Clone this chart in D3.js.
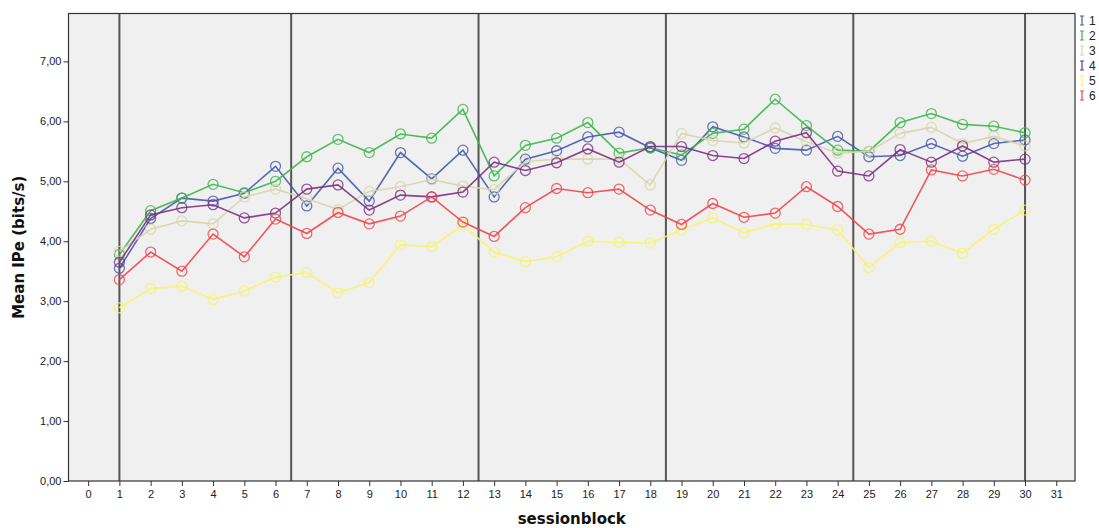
<!DOCTYPE html>
<html>
<head>
<meta charset="utf-8">
<script src="https://cdn.jsdelivr.net/npm/d3@7"></script>
<style>
  body { margin: 0; background: #fff; }
  svg { display: block; font-family: "Liberation Sans", Arial, sans-serif; }
</style>
</head>
<body>
<svg width="1099" height="528"></svg>
<script>
// sessionblock 1..30, mean IPe per group
const blocks = d3.range(1, 31);
const groups = ["1", "2", "3", "4", "5", "6"];
const colors = ["#4259ae", "#3cb64b", "#d8d4ac", "#7b2f85", "#f8f46c", "#f0454a"];

const g1 = [3.55, 4.38, 4.72, 4.67, 4.80, 5.25, 4.59, 5.22, 4.67, 5.48, 5.04, 5.52, 4.74, 5.37, 5.51, 5.74, 5.82, 5.56, 5.35, 5.91, 5.74, 5.55, 5.52, 5.75, 5.41, 5.43, 5.63, 5.42, 5.63, 5.69];
const g2 = [3.78, 4.51, 4.72, 4.95, 4.81, 5.00, 5.41, 5.70, 5.48, 5.79, 5.72, 6.20, 5.09, 5.60, 5.72, 5.98, 5.47, 5.56, 5.44, 5.80, 5.87, 6.37, 5.93, 5.52, 5.50, 5.98, 6.13, 5.95, 5.92, 5.81];
const g3 = [3.83, 4.20, 4.34, 4.29, 4.74, 4.87, 4.71, 4.53, 4.83, 4.91, 5.03, 4.92, 4.86, 5.33, 5.37, 5.37, 5.37, 4.94, 5.80, 5.68, 5.64, 5.89, 5.66, 5.47, 5.50, 5.80, 5.90, 5.63, 5.75, 5.59];
const g4 = [3.65, 4.44, 4.56, 4.61, 4.39, 4.47, 4.87, 4.94, 4.52, 4.77, 4.74, 4.82, 5.32, 5.18, 5.31, 5.54, 5.32, 5.58, 5.58, 5.43, 5.38, 5.67, 5.81, 5.17, 5.09, 5.53, 5.32, 5.59, 5.32, 5.37];
const g5 = [2.89, 3.21, 3.25, 3.03, 3.17, 3.40, 3.48, 3.14, 3.31, 3.94, 3.91, 4.27, 3.82, 3.66, 3.74, 4.00, 3.98, 3.97, 4.19, 4.39, 4.14, 4.29, 4.28, 4.19, 3.56, 3.98, 4.00, 3.80, 4.20, 4.52];
const g6 = [3.36, 3.82, 3.50, 4.12, 3.74, 4.37, 4.13, 4.48, 4.29, 4.42, 4.74, 4.32, 4.08, 4.56, 4.88, 4.81, 4.87, 4.52, 4.28, 4.63, 4.40, 4.47, 4.91, 4.58, 4.12, 4.20, 5.19, 5.09, 5.20, 5.02];
const seriesValues = [g1, g2, g3, g4, g5, g6];

// reference lines (phase boundaries)
const refLines = [1, 6.5, 12.5, 18.5, 24.5, 30];
const xTicks = d3.range(0, 32);
const yTicks = [0, 1, 2, 3, 4, 5, 6, 7];

const svg = d3.select("svg");
const margin = { top: 13.5, right: 24, bottom: 47, left: 68.5 };
const width = 1099, height = 528;

const x = d3.scaleLinear()
  .domain([-0.63, 31.6])
  .range([margin.left, width - margin.right]);
const y = d3.scaleLinear()
  .domain([0, 7.8])
  .range([height - margin.bottom, margin.top]);

const fmt = d => d3.format(".2f")(d).replace(".", ",");

// plot background
svg.append("rect")
  .attr("x", x.range()[0]).attr("y", y.range()[1])
  .attr("width", x.range()[1] - x.range()[0])
  .attr("height", y.range()[0] - y.range()[1])
  .attr("fill", "#f0f0f0");

// axes
const xAxis = svg.append("g")
  .attr("transform", `translate(0,${y(0)})`)
  .call(d3.axisBottom(x).tickValues(xTicks).tickSize(5).tickPadding(4).tickFormat(d3.format("d")));
const yAxis = svg.append("g")
  .attr("transform", `translate(${x.range()[0]},0)`)
  .call(d3.axisLeft(y).tickValues(yTicks).tickSize(5).tickPadding(2).tickFormat(fmt));
[xAxis, yAxis].forEach(a => {
  a.select(".domain").remove();
  a.selectAll(".tick line").attr("stroke", "#333");
  a.selectAll(".tick text").attr("fill", "#222").attr("font-size", 11)
    .attr("font-family", "Liberation Sans, Arial, sans-serif");
});

// reference lines
svg.append("g")
  .selectAll("line")
  .data(refLines)
  .join("line")
    .attr("x1", d => x(d)).attr("x2", d => x(d))
    .attr("y1", y.range()[1]).attr("y2", y.range()[0])
    .attr("stroke", "#555")
    .attr("stroke-width", 2);

// series
const line = d3.line()
  .x((d, i) => x(blocks[i]))
  .y(d => y(d));

seriesValues.forEach((vals, k) => {
  const g = svg.append("g");
  g.append("path")
    .datum(vals)
    .attr("d", line)
    .attr("fill", "none")
    .attr("stroke", colors[k])
    .attr("stroke-width", 1.6)
    .attr("stroke-opacity", 0.9);
  g.selectAll("circle")
    .data(vals)
    .join("circle")
      .attr("cx", (d, i) => x(blocks[i]))
      .attr("cy", d => y(d))
      .attr("r", 5)
      .attr("fill", "none")
      .attr("stroke", colors[k])
      .attr("stroke-width", 1.3)
      .attr("stroke-opacity", 0.8);
});

// frame
svg.append("rect")
  .attr("x", x.range()[0]).attr("y", y.range()[1])
  .attr("width", x.range()[1] - x.range()[0])
  .attr("height", y.range()[0] - y.range()[1])
  .attr("fill", "none")
  .attr("stroke", "#333")
  .attr("stroke-width", 1.2);

// legend
const legend = svg.append("g")
  .selectAll("g")
  .data(groups)
  .join("g")
    .attr("transform", (d, i) => `translate(1082,${20.5 + i * 15})`);
legend.append("path")
  .attr("d", "M-2,-4.5H2M0,-4.5V4.5M-2,4.5H2")
  .attr("fill", "none")
  .attr("stroke", (d, i) => colors[i])
  .attr("stroke-width", 1.2);
legend.append("text")
  .attr("x", 7)
  .attr("dy", "0.35em")
  .attr("font-size", 12)
  .attr("fill", "#222")
  .text(d => d);

// axis titles
svg.append("text")
  .attr("x", (x.range()[0] + x.range()[1]) / 2)
  .attr("y", 524)
  .attr("text-anchor", "middle")
  .attr("font-size", 15)
  .attr("font-weight", "bold")
  .attr("font-family", "DejaVu Sans, sans-serif")
  .attr("fill", "#111")
  .text("sessionblock");

svg.append("text")
  .attr("transform", `translate(24,${(y.range()[0] + y.range()[1]) / 2}) rotate(-90)`)
  .attr("text-anchor", "middle")
  .attr("font-size", 15)
  .attr("font-weight", "bold")
  .attr("font-family", "DejaVu Sans, sans-serif")
  .attr("fill", "#111")
  .text("Mean IPe (bits/s)");
</script>
</body>
</html>
